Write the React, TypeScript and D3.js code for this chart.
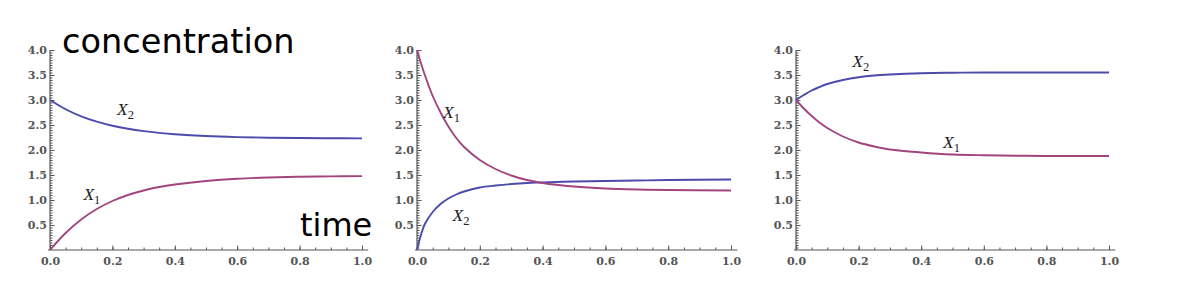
import { useEffect, useRef } from "react";
import * as d3 from "d3";

// values, time 0..1
const times1 = [0, 0.05, 0.1, 0.15, 0.2, 0.25, 0.3, 0.35, 0.4, 0.5, 0.6, 0.7, 0.8, 0.9, 1.0];
const p1_x1 = [0, 0.34, 0.61, 0.82, 0.98, 1.1, 1.19, 1.26, 1.31, 1.38, 1.425, 1.45, 1.465, 1.472, 1.477];
const p1_x2 = [3.0, 2.815, 2.674, 2.567, 2.486, 2.425, 2.378, 2.343, 2.316, 2.279, 2.258, 2.246, 2.239, 2.235, 2.232];

const times2 = [0, 0.0125, 0.025, 0.05, 0.075, 0.1, 0.125, 0.15, 0.2, 0.25, 0.3, 0.35, 0.4, 0.5, 0.6, 0.7, 0.8, 1.0];
const p2_x1 = [4.0, 3.74, 3.5, 3.08, 2.75, 2.47, 2.24, 2.06, 1.8, 1.62, 1.49, 1.4, 1.34, 1.27, 1.23, 1.21, 1.2, 1.19];
const p2_x2 = [0, 0.3, 0.52, 0.76, 0.92, 1.03, 1.11, 1.17, 1.25, 1.29, 1.32, 1.34, 1.35, 1.37, 1.38, 1.39, 1.4, 1.41];

const times3 = [0, 0.025, 0.05, 0.075, 0.1, 0.15, 0.2, 0.25, 0.3, 0.4, 0.5, 0.6, 0.8, 1.0];
const p3_x1 = [3.0, 2.83, 2.68, 2.55, 2.44, 2.27, 2.15, 2.07, 2.01, 1.95, 1.91, 1.895, 1.88, 1.88];
const p3_x2 = [3.0, 3.1, 3.19, 3.26, 3.32, 3.4, 3.455, 3.49, 3.51, 3.535, 3.545, 3.55, 3.55, 3.55];

const xTicks = [0, 0.2, 0.4, 0.6, 0.8, 1.0];
const yTicks = [0.5, 1.0, 1.5, 2.0, 2.5, 3.0, 3.5, 4.0];

const BLUE = "#4b4bab";
const MAGENTA = "#a2457f";

const panels = [
  { left: 50, right: 362, t: times1, x1: p1_x1, x2: p1_x2,
    lab1: [0.107, 1.0], lab2: [0.215, 2.7] },
  { left: 417, right: 731, t: times2, x1: p2_x1, x2: p2_x2,
    lab1: [0.083, 2.64], lab2: [0.113, 0.58] },
  { left: 796, right: 1109, t: times3, x1: p3_x1, x2: p3_x2,
    lab1: [0.47, 2.04], lab2: [0.18, 3.66] },
];

export default function App() {
  const ref = useRef(null);

  useEffect(() => {
    const svg = d3.select(ref.current);
    svg.selectAll("*").remove();

    const top = 50;
    const bottom = 250;

    panels.forEach(function (p) {
      const x = d3.scaleLinear().domain([0, 1]).range([p.left, p.right]);
      const y = d3.scaleLinear().domain([0, 4]).range([bottom, top]);
      const g = svg.append("g");

      // minor ticks
      g.append("g")
        .attr("transform", "translate(0," + bottom + ")")
        .call(d3.axisBottom(x).tickValues(d3.range(0, 1.001, 0.05)).tickSize(-2.5).tickFormat(() => ""))
        .call((a) => a.select(".domain").remove());
      g.append("g")
        .attr("transform", "translate(" + p.left + ",0)")
        .call(d3.axisLeft(y).tickValues(d3.range(0.05, 4.001, 0.05)).tickSize(-2.5).tickFormat(() => ""))
        .call((a) => a.select(".domain").remove());

      // x-axis
      const xa = g.append("g")
        .attr("transform", "translate(0," + bottom + ")")
        .call(d3.axisBottom(x).tickValues(xTicks).tickSize(-4.5).tickSizeOuter(0).tickPadding(7)
          .tickFormat(d3.format(".1f")));
      xa.select(".domain").remove();
      xa.append("line")
        .attr("x1", x(0) - 2).attr("x2", x(1.02))
        .attr("stroke", "#555").attr("stroke-width", 1.2);

      // y-axis
      const ya = g.append("g")
        .attr("transform", "translate(" + p.left + ",0)")
        .call(d3.axisLeft(y).tickValues(yTicks).tickSize(-4.5).tickSizeOuter(0).tickPadding(3)
          .tickFormat(d3.format(".1f")));
      ya.select(".domain").remove();
      ya.append("line")
        .attr("y1", y(0)).attr("y2", y(4))
        .attr("stroke", "#555").attr("stroke-width", 1.2);

      svg.selectAll(".tick line").attr("stroke", "#555");
      [xa, ya].forEach((a) =>
        a.selectAll("text")
          .attr("fill", "#555")
          .style("font-family", "DejaVu Serif")
          .style("font-weight", "bold")
          .style("font-size", "11px"));

      // curves
      const line = d3.line<number>()
        .x((d, i) => x(p.t[i]))
        .y((d) => y(d))
        .curve(d3.curveCatmullRom.alpha(0.5));

      g.append("path").datum(p.x2).attr("d", line)
        .attr("fill", "none").attr("stroke", BLUE).attr("stroke-width", 1.9);
      g.append("path").datum(p.x1).attr("d", line)
        .attr("fill", "none").attr("stroke", MAGENTA).attr("stroke-width", 1.9);

      // curve labels
      [[p.lab1, "1"], [p.lab2, "2"]].forEach(function (l) {
        const pos = l[0] as number[];
        const t = g.append("text")
          .attr("x", x(pos[0]))
          .attr("y", y(pos[1]))
          .style("font-family", "Liberation Serif")
          .style("font-size", "17.5px")
          .attr("fill", "#222");
        t.append("tspan").style("font-style", "italic").text("X");
        t.append("tspan").attr("dy", 4).style("font-size", "12.5px").text(l[1] as string);
      });
    });

    // big annotations
    svg.append("text")
      .attr("x", 62).attr("y", 53)
      .style("font-family", "DejaVu Sans")
      .style("font-size", "33.6px")
      .attr("fill", "#000")
      .text("concentration");
    svg.append("text")
      .attr("x", 300).attr("y", 236)
      .style("font-family", "DejaVu Sans")
      .style("font-size", "32px")
      .attr("fill", "#000")
      .text("time");
  }, []);

  return (
    <svg ref={ref} width={1200} height={300}
      style={{ position: "absolute", left: 0, top: 0, background: "#fff" }} />
  );
}
